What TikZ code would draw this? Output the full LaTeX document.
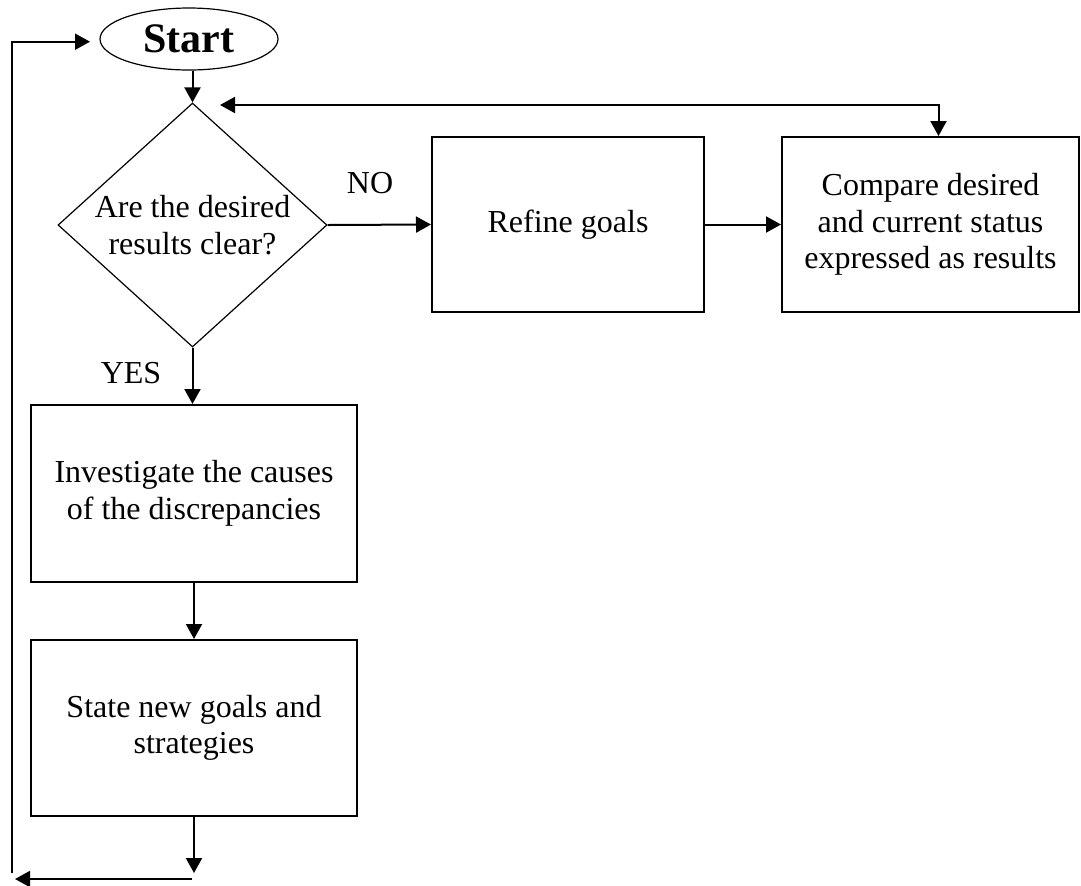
\documentclass[tikz,border=0pt]{standalone}
\usepackage{fontspec}
\setmainfont{Liberation Serif}
\usetikzlibrary{shapes.geometric,arrows.meta}

\begin{document}
\begin{tikzpicture}[x=0.5pt,y=-0.5pt,
   >={Triangle[length=7.5pt,width=8pt]},
   every node/.style={font=\fontsize{16}{18.25}\selectfont, align=center, inner sep=0pt},
   flowbox/.style={draw, line width=1pt, rectangle},
   link/.style={line width=1pt, ->},
   terminal/.style={draw, line width=0.6pt, ellipse, minimum width=89pt, minimum height=31pt,
      font=\fontsize{21}{24}\selectfont\bfseries},
   decision/.style={draw, line width=0.6pt, diamond, aspect=1.1, minimum width=134.5pt, minimum height=122pt}]
\useasboundingbox (0,0) rectangle (1081,885);
\node (start) [terminal] at (189,39) {Start};
\node (dec) [decision] at (192.5,225) {Are the desired\\results clear?};
\node (refine) [flowbox, minimum width=136pt, minimum height=87.5pt] at (568,224.5) {Refine goals};
\node (cmp) [flowbox, minimum width=148.5pt, minimum height=87.5pt] at (930.5,224.5)
   {Compare desired\\and current status\\expressed as results};
\node (inv) [flowbox, minimum width=163pt, minimum height=88.5pt] at (194,493.5)
   {Investigate the causes\\of the discrepancies};
\node (state) [flowbox, minimum width=163pt, minimum height=88pt] at (194,728)
   {State new goals and\\strategies};
\node (no) at (370,183) {NO};
\node (yes) at (131,373) {YES};
% loop back points
\coordinate (fb) at (220,105);
\coordinate (down-end) at (194,873);
\coordinate (back-a) at (192,879);
\coordinate (back-b) at (15,879);
\coordinate (up-a) at (12,873);
\coordinate (up-b) at (90,41.7);
\draw[link] (start.south -| dec.north) -- (dec.north);
\draw[link, <->] (fb) -| ([xshift=4pt]cmp.north);
\draw[link] (dec.east) -- (refine.west);
\draw[link] (refine.east) -- (cmp.west);
\draw[link] (dec.south) -- (dec.south |- inv.north);
\draw[link] (inv.south) -- (state.north);
\draw[link] (state.south) -- (down-end);
\draw[link] (back-a) -- (back-b);
\draw[link] (up-a) |- (up-b);
\end{tikzpicture}
\end{document}
